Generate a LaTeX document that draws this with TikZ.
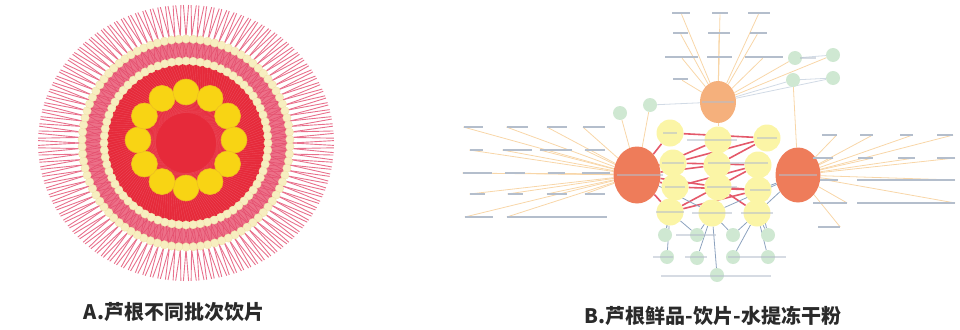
\documentclass[tikz,border=0pt]{standalone}
\usepackage{fontspec}
\newfontfamily\cjk{Noto Sans CJK SC}
\usetikzlibrary{shapes.geometric,backgrounds,calc}
\definecolor{spkc}{HTML}{E8708C}
\definecolor{pinkc}{HTML}{E5506F}
\definecolor{pinkf}{HTML}{EC7088}
\definecolor{redA}{HTML}{E62A3A}
\definecolor{texc}{HTML}{F27A8A}
\definecolor{palec}{HTML}{F7EEC0}
\definecolor{palee}{HTML}{F0E2A8}
\definecolor{yelc}{HTML}{F8D414}
\definecolor{yeld}{HTML}{EEBE22}
\definecolor{orTc}{HTML}{F5B07C}
\definecolor{orBc}{HTML}{EE7C5A}
\definecolor{ync}{HTML}{FBF5A6}
\definecolor{gnc}{HTML}{CFE8D2}
\definecolor{lblc}{HTML}{B4BECC}
\definecolor{olc}{HTML}{F8D6A8}
\definecolor{rlc}{HTML}{E4596A}
\definecolor{blc}{HTML}{8CA2BE}
\definecolor{capc}{HTML}{2A2A2A}
\begin{document}
\begin{tikzpicture}[x=1pt,y=-1pt,
  spk/.style={draw=spkc, line width=0.9pt},
  pinkl/.style={draw=pinkc, line width=0.6pt},
  texl/.style={draw=texc, line width=0.3pt, opacity=0.45},
  ringn/.style={fill=palec, draw=palee, line width=0.3pt},
  ybig/.style={circle, fill=yelc, draw=yeld, line width=0.6pt, minimum size=26pt, inner sep=0pt},
  orT/.style={ellipse, fill=orTc, minimum width=36pt, minimum height=42pt, inner sep=0pt},
  orB/.style={ellipse, fill=orBc, minimum width=47pt, minimum height=57pt, inner sep=0pt},
  ynode/.style={circle, fill=ync, minimum size=27pt, inner sep=0pt},
  gnode/.style={circle, fill=gnc, minimum size=14pt, inner sep=0pt},
  lbl/.style={rectangle, fill=lblc, minimum height=2.2pt, inner sep=0pt},
  olink/.style={draw=olc, line width=0.8pt},
  rlink/.style={draw=rlc, line width=1.6pt},
  blink/.style={draw=blc, line width=0.8pt},
  captext/.style={font=\cjk\bfseries\fontsize{20}{20}\selectfont, text=capc, inner sep=0pt}
]
\useasboundingbox (0,0) rectangle (960,329);

% ================= Panel A =================
\begin{scope}[shift={(186,143)}]
  % outer spokes
  \foreach \i in {0,...,119}{
    \pgfmathsetmacro{\a}{\i*3}
    \draw[spk] (\a:106) -- (\a-1:148 and 138);
    \draw[spk] (\a:106) -- (\a+1:148 and 138);
  }
  % pink band between the pale rings
  \fill[pinkf, even odd rule] (0,0) circle (101) (0,0) circle (82);
  \foreach \i in {0,...,89}{
    \pgfmathsetmacro{\a}{\i*4}
    \draw[pinkl] (\a:104) -- (\a-4:82);
    \draw[pinkl] (\a:104) -- (\a+1:82);
    \draw[pinkl] (\a:104) -- (\a+4:82);
  }
  % red core
  \fill[redA] (0,0) circle (79);
  \foreach \i in {0,...,179}{
    \pgfmathsetmacro{\a}{\i*2}
    \draw[texl] (\a:79) -- (\a+22:30);
  }
  % inner pale ring
  \foreach \i in {0,...,71}{
    \pgfmathsetmacro{\a}{\i*5}
    \filldraw[ringn] (\a:82) circle (4.2);
  }
  % outer pale ring
  \foreach \i in {0,...,89}{
    \pgfmathsetmacro{\a}{\i*4+2}
    \filldraw[ringn] (\a:104) circle (4.2);
  }
  % yellow batch nodes
  \foreach \i in {0,...,11}{
    \pgfmathsetmacro{\a}{\i*30+90}
    \node[ybig] (yb\i) at ($(0,-3)+(\a:48)$) {};
  }
\end{scope}
\node[captext] (capA) at (174,312) {A.芦根不同批次饮片};

% ================= Panel B =================
\node[orT] (T) at (718,102) {};
\node[orB] (L) at (637,175) {};
\node[orB, minimum width=45pt, minimum height=55pt] (R) at (798,175) {};

\foreach \n/\x/\y in {Y1/670/133, Y2/718/140, Y3/767/138, Y4/673/163, Y5/717/165, Y6/758/165,
  Y7/675/187, Y8/718/187, Y9/758/190, Y10/670/212, Y11/712/213, Y12/757/213}{
  \node[ynode] (\n) at (\x,\y) {};
}
\foreach \n/\x/\y in {G1/650/105, G2/620/113, G3/795/58, G4/833/55, G5/793/80, G6/833/78,
  B1/665/235, B2/697/235, B3/733/235, B4/768/235, B5/667/257, B6/697/258, B7/733/257, B8/768/257, B9/717/275}{
  \node[gnode] (\n) at (\x,\y) {};
}

\foreach \n/\x/\y/\w in {
  t1/681/13/18, t2/720/13/16, t3/759/13/22,
  t4/680/33/15, t5/719/33/22, t6/758/33/17,
  t7/681/57/33, t8/719/57/25, t9/764/57/38, t10/680/79/15,
  l1/473/127/19, l2/517/127/21, l3/557/127/20, l4/594/127/22,
  l5/476/150/13, l6/517/150/29, l7/556/150/32, l8/595/150/20,
  l9/477/173/29, l10/515/173/20, l11/556/173/17, l12/596/173/28,
  l13/477/194/15, l14/515/194/15, l15/557/194/20, l16/595/194/20,
  l17/479/217/28, l18/557/217/100,
  r1/829/135/15, r2/866/135/13, r3/906/135/13, r4/945/135/16,
  r5/823/158/20, r6/865/158/15, r7/906/158/17, r8/946/158/18,
  r9/829/180/18, r10/906/180/98,
  r11/830/203/34, r12/906/203/98,
  r13/829/227/22}{
  \node[lbl, minimum width=\w pt] (\n) at (\x,\y) {};
}
\foreach \n/\x/\y/\w in {
  g3t/808/58/16, b1t/696/235/40, b5t/663/257/20, b6t/696/257/22, b7t/757/257/58, b9t/716/276/110,
  y2t/712/140/50, y5t/738/163/60, y4t/673/163/22, y7t/675/187/20, y8t/722/187/30, y9t/760/190/20,
  y10t/670/212/28, y11t/712/213/40, y12t/757/213/32, y1t/670/133/14, y3t/767/138/20,
  Tt/718/102/32, Lt/640/175/46, Rt/798/175/38}{
  \node[lbl, minimum width=\w pt, fill opacity=0.55] (\n) at (\x,\y) {};
}

\begin{pgfonlayer}{background}
  \foreach \n in {t1,t2,t3,t4,t5,t6,t7,t8,t9,t10}{\draw[olink] (T) -- (\n);}
  \draw[olink] (T) -- (G3); \draw[olink] (T) -- (G4);
  \draw[blink, draw=blc!40] (T) -- (G5); \draw[blink, draw=blc!40] (T) -- (G6);
  \draw[blink, draw=blc!40] (G1) -- (T);
  \draw[olink] (T) -- (Y2);
  \foreach \n in {l1,l2,l3,l4,l5,l6,l7,l8,l9,l10,l11,l12,l13,l14,l15,l16,l17,l18}{\draw[olink] (L) -- (\n.west);}
  \draw[olink] (L) -- (G1); \draw[olink] (L) -- (G2);
  \foreach \n in {r1,r2,r3,r4,r5,r6,r7,r8,r9,r10,r11,r12,r13}{\draw[olink] (R) -- (\n.east);}
  \draw[olink] (R) -- (G5);
  \draw[blink, draw=blc!40] (G5) -- (G6); \draw[blink, draw=blc!40] (G3) -- (G4);
  \foreach \a/\b in {L/Y1, L/Y4, L/Y7, L/Y10, L/Y2, L/Y5, L/Y8, Y4/Y3, Y4/Y6, Y7/Y6, Y7/Y9,
    Y8/Y9, Y10/Y6, Y5/Y3, Y8/Y12, Y1/Y3, Y10/Y9}{
    \draw[rlink] (\a) -- (\b);
  }
  \foreach \a/\b in {R/Y9, R/Y12, R/Y11, L/Y11, Y10/B1, Y10/B2, Y11/B3, Y12/B4, Y11/B2,
    Y12/B3, Y10/B5, Y11/B6, Y12/B7, Y12/B8, Y11/B9, Y7/B1, Y9/B4}{
    \draw[blink] (\a) -- (\b);
  }
\end{pgfonlayer}

\node[captext] (capB) at (713,316) {B.芦根鲜品-饮片-水提冻干粉};
\end{tikzpicture}
\end{document}
